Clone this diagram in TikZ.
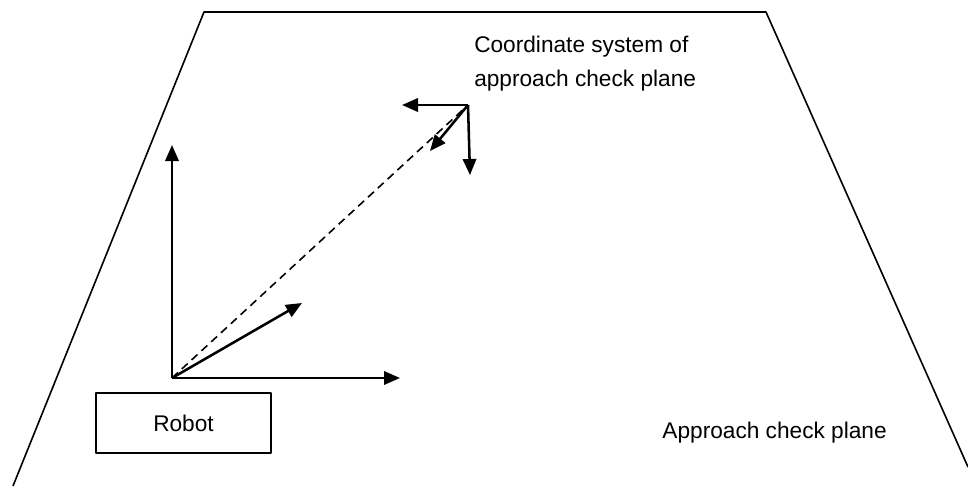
\documentclass[tikz,border=0pt]{standalone}
\usepackage{fontspec}
\setmainfont{Liberation Sans}
\usetikzlibrary{arrows.meta,calc}
\usetikzlibrary{positioning}
\begin{document}
\begin{tikzpicture}[x=0.75pt,y=-0.75pt,>={Triangle[length=12pt,width=10pt]},line join=round,
  axis/.style={line width=1.9pt,->},
  plane/.style={line width=1.2pt},
  txt/.style={font=\fontsize{17}{25}\selectfont,inner sep=0pt}]
\useasboundingbox (0,0) rectangle (968,486);
% approach check plane outline
\draw[plane] (13,486) -- (204,12) -- (766,12) -- (968,467);
% robot coordinate system
\coordinate (O) at (172,378);
\coordinate (Ox) at (400,378);
\coordinate (Oy) at (172,145);
\coordinate (Oz) at (302,303);
\draw[axis] (O) -- (Oy);
\draw[axis] (O) -- (Ox);
\draw[axis] (O) -- (Oz);
% coordinate system of approach check plane
\coordinate (P) at (468,105);
\coordinate (Px) at (402,105);
\coordinate (Py) at (470,175);
\coordinate (Pz) at (430,151);
\draw[line width=1.2pt,dash pattern=on 6pt off 4pt] (O) -- (P);
\draw[axis] (P) -- (Px);
\draw[axis] (P) -- (Py);
\draw[axis] (P) -- (Pz);
% robot box
\node[draw,plane,txt,minimum width=131pt,minimum height=45pt] (robot) at (183.5,423) {Robot};
% labels
\node[txt,anchor=base west,align=left] (frame label) at (474,86) {Coordinate system of\\approach check plane};
\node[txt,anchor=base east] (plane label) at (887,438) {Approach check plane};
\end{tikzpicture}
\end{document}
